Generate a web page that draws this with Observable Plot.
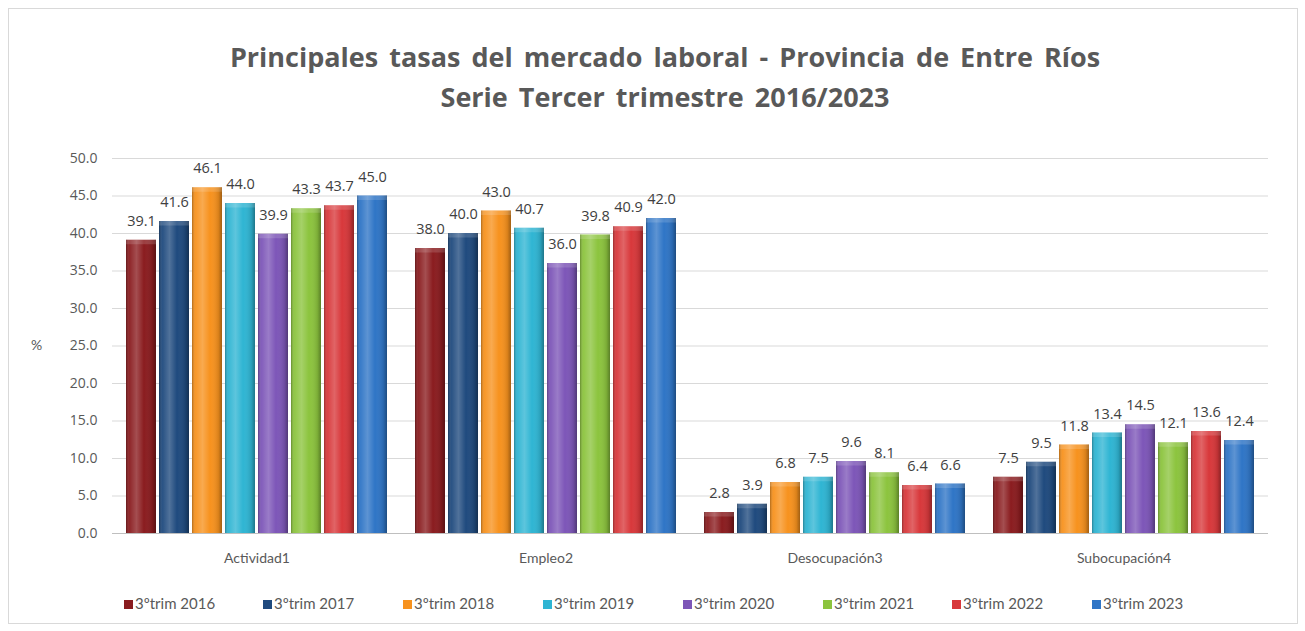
<!DOCTYPE html>
<html><head><meta charset="utf-8">
<script src="https://cdn.jsdelivr.net/npm/d3@7"></script>
<script src="https://cdn.jsdelivr.net/npm/@observablehq/plot@0.6"></script>
<style>
body{margin:0;background:#fff;font-family:Lato,"Open Sans",sans-serif;}
#frame{position:absolute;left:8px;top:8px;width:1288px;height:614px;border:1px solid #d9d9d9;}
#title{position:absolute;left:0;top:37px;width:1330px;text-align:center;font-family:"Open Sans",sans-serif;font-weight:bold;font-size:27px;line-height:40px;color:#595959;word-spacing:4px;}
#chart{position:absolute;left:0;top:125px;}
#pct{position:absolute;left:31px;top:336px;font-size:14px;color:#595959;}
#legend{position:absolute;left:0;top:594px;width:1305px;height:22px;}
.li{position:absolute;font-size:15px;color:#595959;white-space:nowrap;}
.li span.sw{display:inline-block;width:9px;height:9px;margin-right:2px;vertical-align:0px;}
</style></head>
<body>
<div id="frame"></div>
<div id="title">Principales tasas del mercado laboral - Provincia de Entre Ríos<br>Serie Tercer trimestre 2016/2023</div>
<div id="pct">%</div>
<div id="chart"></div>
<div id="legend"></div>
<script>
const categories = ["Actividad1", "Empleo2", "Desocupación3", "Subocupación4"];
const series = ["3ºtrim 2016","3ºtrim 2017","3ºtrim 2018","3ºtrim 2019","3ºtrim 2020","3ºtrim 2021","3ºtrim 2022","3ºtrim 2023"];
const colors = ["#8a1c1f","#1f4a7e","#f7921e","#2fb5d3","#7d56b8","#8cc43e","#d8383b","#2f75c6"];
const actividad = [39.1, 41.6, 46.1, 44.0, 39.9, 43.3, 43.7, 45.0];
const empleo = [38.0, 40.0, 43.0, 40.7, 36.0, 39.8, 40.9, 42.0];
const desocupacion = [2.8, 3.9, 6.8, 7.5, 9.6, 8.1, 6.4, 6.6];
const subocupacion = [7.5, 9.5, 11.8, 13.4, 14.5, 12.1, 13.6, 12.4];
const yTicks = [0,5,10,15,20,25,30,35,40,45,50];

const valuesByCat = [actividad, empleo, desocupacion, subocupacion];
const data = [];
categories.forEach((c, i) => series.forEach((s, j) => data.push({cat: c, serie: s, value: valuesByCat[i][j]})));

const plot = Plot.plot({
  width: 1305, height: 460,
  marginTop: 33, marginBottom: 52, marginLeft: 112, marginRight: 37,
  style: {fontFamily: "Lato, 'Open Sans', sans-serif", fontSize: "14px", color: "#595959", background: "transparent"},
  fx: {domain: categories, padding: 0, label: null},
  x: {domain: series, paddingInner: 0.1, paddingOuter: 0.38, axis: null},
  y: {domain: [0, 50], label: null},
  color: {domain: series, range: colors},
  marks: [
    Plot.gridY(yTicks.slice(1), {stroke: "#d9d9d9", strokeOpacity: 1, facetAnchor: null}),
    Plot.axisY(yTicks, {tickFormat: d => d.toFixed(1), tickSize: 0, tickPadding: 15, fontSize: 14, fontFamily: "'Open Sans', sans-serif", fill: "#595959", label: null}),
    Plot.axisFx({anchor: "bottom", tickSize: 0, tickPadding: 20, fontSize: 14, fill: "#595959", label: null}),
    Plot.barY(data, {fx: "cat", x: "serie", y: "value", fill: "serie"}),
    Plot.barY(data, {fx: "cat", x: "serie", y: "value", fill: "url(#shine)"}),
    Plot.barY(data, {fx: "cat", x: "serie", y1: d => d.value - 0.6, y2: "value", fill: "#fff", fillOpacity: 0.15}),
    Plot.text(data, {fx: "cat", x: "serie", y: "value", text: d => d.value.toFixed(1), dy: -19, fontSize: 14.5, fontFamily: "'Open Sans', sans-serif", fill: "#404040"}),
    Plot.ruleY([0], {stroke: "#bfbfbf", facetAnchor: null})
  ]
});
const svg = d3.select(plot);
const defs = svg.insert("defs", ":first-child");
const g = defs.append("linearGradient").attr("id", "shine").attr("x1", 0).attr("x2", 1).attr("y1", 0).attr("y2", 0);
[[0,"#000",0.28],[0.12,"#fff",0.05],[0.35,"#fff",0.22],[0.6,"#fff",0.0],[0.88,"#000",0.12],[1,"#000",0.35]].forEach(([o,c,a]) =>
  g.append("stop").attr("offset", o).attr("stop-color", c).attr("stop-opacity", a));
document.getElementById("chart").appendChild(plot);

const legend = document.getElementById("legend");
const legendX = [124, 263, 403, 543, 683, 823, 952, 1092];
series.forEach((s, i) => {
  const d = document.createElement("div");
  d.className = "li";
  d.style.left = legendX[i] + "px";
  d.innerHTML = `<span class="sw" style="background:${colors[i]}"></span>${s}`;
  legend.appendChild(d);
});
</script>
</body></html>
